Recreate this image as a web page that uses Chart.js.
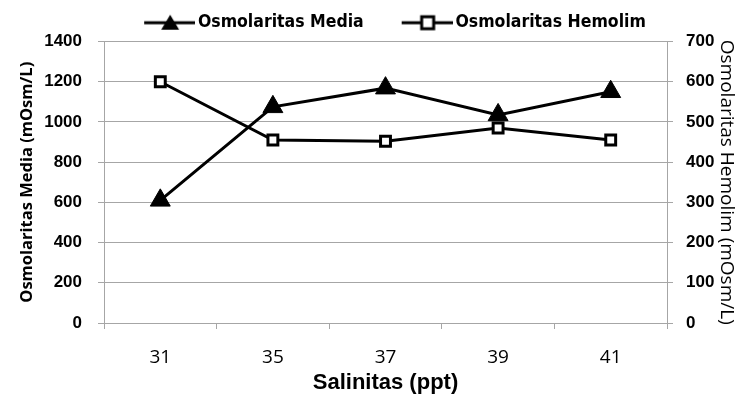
<!DOCTYPE html>
<html>
<head>
<meta charset="utf-8">
<script src="https://cdn.jsdelivr.net/npm/chart.js@4/dist/chart.umd.min.js"></script>
<style>
  html, body { margin: 0; padding: 0; background: #fff; }
  #wrap { width: 740px; height: 396px; }
</style>
</head>
<body>
<div id="wrap"><canvas id="osmoChart"></canvas></div>
<script>
// data
const salinitas = ['31', '35', '37', '39', '41'];
const osmoMedia = [610, 1075, 1168, 1035, 1150];
const osmoHemolim = [600, 455, 452, 485, 455];

// legend symbol: short line with the marker, kept at the right edge of the image
function legendSymbol(kind) {
    const c = document.createElement('canvas');
    c.width = 85;
    c.height = 20;
    const g = c.getContext('2d');
    const x0 = 34;
    g.strokeStyle = '#000';
    g.lineWidth = 3;
    g.beginPath();
    g.moveTo(x0, 10);
    g.lineTo(x0 + 51, 10);
    g.stroke();
    const mx = x0 + 26;
    if (kind === 'triangle') {
        g.fillStyle = '#000';
        g.beginPath();
        g.moveTo(mx, 2);
        g.lineTo(mx + 9, 17);
        g.lineTo(mx - 9, 17);
        g.closePath();
        g.fill();
    } else {
        g.fillStyle = '#fff';
        g.fillRect(mx - 6, 4, 12, 12);
        g.strokeRect(mx - 6, 4, 12, 12);
    }
    return c;
}

// move the legend a little to the right, like the original
const legendShift = {
    id: 'legendShift',
    afterLayout(ch) {
        ch.legend.left += 11;
        ch.legend.right += 11;
    }
};

const gridGrey = '#a6a6a6';
const ctx = document.getElementById('osmoChart').getContext('2d');

const chart = new Chart(ctx, {
    type: 'line',
    data: {
        labels: salinitas,
        datasets: [{
            label: 'Osmolaritas Media',
            data: osmoMedia,
            yAxisID: 'y',
            borderColor: '#000',
            borderWidth: 3,
            pointStyle: 'triangle',
            pointRadius: 11.5,
            pointHoverRadius: 11.5,
            pointBackgroundColor: '#000',
            pointBorderColor: '#000',
            pointBorderWidth: 1,
            fill: false,
            tension: 0
        }, {
            label: 'Osmolaritas Hemolim',
            data: osmoHemolim,
            yAxisID: 'y1',
            borderColor: '#000',
            borderWidth: 3,
            pointStyle: 'rect',
            pointRadius: 7,
            pointHoverRadius: 7,
            pointBackgroundColor: '#fff',
            pointBorderColor: '#000',
            pointBorderWidth: 3,
            fill: false,
            tension: 0
        }]
    },
    plugins: [legendShift],
    options: {
        responsive: true,
        maintainAspectRatio: false,
        animation: false,
        layout: { padding: { top: 4 } },
        plugins: {
            tooltip: { enabled: false },
            legend: {
                position: 'top',
                labels: {
                    color: '#000',
                    font: { family: "'Liberation Sans Narrow', 'DejaVu Sans Condensed', sans-serif", size: 17.5, weight: 'bold' },
                    usePointStyle: true,
                    pointStyleWidth: 73,
                    padding: 10,
                    generateLabels: function (ch) {
                        return ch.data.datasets.map((ds, i) => ({
                            text: ds.label,
                            datasetIndex: i,
                            pointStyle: legendSymbol(i === 0 ? 'triangle' : 'rect'),
                            fillStyle: '#000',
                            strokeStyle: '#000',
                            lineWidth: 0,
                            fontColor: '#000'
                        }));
                    }
                }
            }
        },
        scales: {
            x: {
                offset: true,
                grid: { offset: true, drawOnChartArea: false, tickLength: 6, color: gridGrey },
                border: { color: gridGrey },
                ticks: { color: '#000', padding: 17, font: { family: "'Open Sans', sans-serif", size: 19 } },
                title: {
                    display: true,
                    text: 'Salinitas (ppt)',
                    color: '#000',
                    padding: { top: 0, bottom: 0 },
                    font: { family: "'Liberation Sans', sans-serif", size: 22, weight: 'bold' }
                },
                afterFit: function (s) { s.height = 73; }
            },
            y: {
                position: 'left',
                min: 0,
                max: 1400,
                ticks: {
                    stepSize: 200,
                    color: '#000',
                    padding: 16,
                    font: { family: "'Liberation Sans', sans-serif", size: 17, weight: 'bold' },
                    callback: v => String(v)
                },
                grid: { color: gridGrey, tickLength: 6 },
                border: { color: gridGrey },
                title: {
                    display: true,
                    text: 'Osmolaritas Media (mOsm/L)',
                    color: '#000',
                    padding: { top: 17, bottom: 0 },
                    font: { family: "'Open Sans', sans-serif", size: 16.5, weight: 'bold' }
                },
                afterFit: function (s) { s.width = 104; }
            },
            y1: {
                position: 'right',
                min: 0,
                max: 700,
                ticks: {
                    stepSize: 100,
                    color: '#000',
                    padding: 13,
                    font: { family: "'Liberation Sans', sans-serif", size: 17, weight: 'bold' },
                    callback: v => String(v)
                },
                grid: { drawOnChartArea: false, color: gridGrey, tickLength: 6 },
                border: { color: gridGrey },
                title: {
                    display: true,
                    text: 'Osmolaritas Hemolim (mOsm/L)',
                    color: '#000',
                    padding: { top: 2, bottom: 0 },
                    font: { family: "'Open Sans', sans-serif", size: 19 }
                },
                afterFit: function (s) { s.width = 73; }
            }
        }
    }
});
</script>
</body>
</html>
